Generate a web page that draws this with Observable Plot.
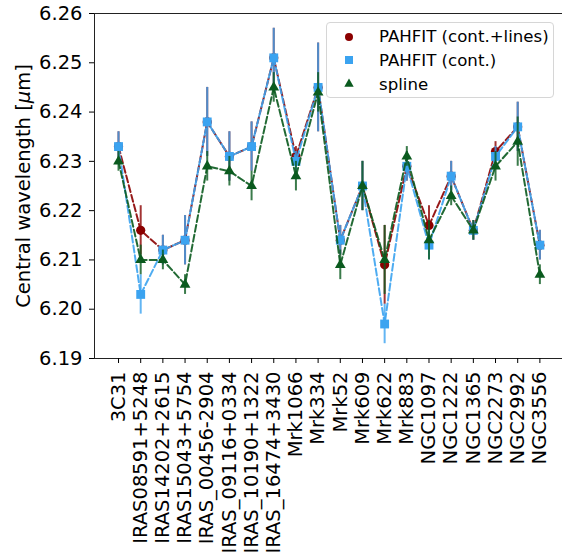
<!DOCTYPE html>
<html>
<head>
<meta charset="utf-8">
<script src="https://cdn.jsdelivr.net/npm/d3@7"></script>
<script src="https://cdn.jsdelivr.net/npm/@observablehq/plot@0.6"></script>
<style>
  html, body { margin: 0; padding: 0; background: #fff; }
  #wrap { position: relative; width: 562px; height: 559px; font-family: "DejaVu Sans", sans-serif; }
  #legend { position: absolute; left: 326px; top: 22px; width: 228px; height: 76px; box-sizing: border-box;
            border: 1px solid #d6d6d6; border-radius: 4px; background: rgba(255,255,255,0.85);
            font-size: 16.6px; color: #000; }
  .row { position: absolute; left: 0; height: 24px; display: flex; align-items: center; }
  .row svg { position: absolute; left: 14px; }
  .row span { position: absolute; left: 52px; white-space: nowrap; }
</style>
</head>
<body>
<div id="wrap"></div>
<script>
const galaxies = ["3C31","IRAS08591+5248","IRAS14202+2615","IRAS15043+5754","IRAS_00456-2904",
  "IRAS_09116+0334","IRAS_10190+1322","IRAS_16474+3430","Mrk1066","Mrk334","Mrk52","Mrk609",
  "Mrk622","Mrk883","NGC1097","NGC1222","NGC1365","NGC2273","NGC2992","NGC3556"];

const pahfitLines    = [6.233,6.216,6.212,6.214,6.238,6.231,6.233,6.251,6.231,6.245,6.214,6.225,6.209,6.229,6.217,6.227,6.216,6.232,6.237,6.213];
const pahfitLinesErr = [0.003,0.005,0.003,0.005,0.007,0.005,0.005,0.006,0.002,0.009,0.003,0.005,0.008,0.003,0.004,0.003,0.002,0.002,0.005,0.003];
const pahfitCont     = [6.233,6.203,6.212,6.214,6.238,6.231,6.233,6.251,6.230,6.245,6.214,6.225,6.197,6.229,6.213,6.227,6.216,6.231,6.237,6.213];
const pahfitContErr  = [0.003,0.004,0.003,0.005,0.007,0.005,0.005,0.006,0.002,0.009,0.003,0.005,0.004,0.003,0.003,0.003,0.002,0.002,0.005,0.003];
const spline         = [6.230,6.210,6.210,6.205,6.229,6.228,6.225,6.245,6.227,6.244,6.209,6.225,6.210,6.231,6.214,6.223,6.216,6.229,6.234,6.207];
const splineErr      = [0.002,0.003,0.002,0.002,0.003,0.003,0.003,0.003,0.003,0.004,0.003,0.005,0.007,0.002,0.004,0.002,0.002,0.003,0.005,0.002];

const yTicks = [6.19,6.20,6.21,6.22,6.23,6.24,6.25,6.26];

const series = [
  {name: "PAHFIT (cont.+lines)", values: pahfitLines, errs: pahfitLinesErr, color: "#8b0000", symbol: "circle", r: 4.6},
  {name: "PAHFIT (cont.)",       values: pahfitCont,  errs: pahfitContErr,  color: "#3ba3f0", symbol: "square", r: 5.0},
  {name: "spline",               values: spline,      errs: splineErr,      color: "#0a5a1e", symbol: "triangle", r: 4.0}
];

const xDomain = [-1.083, 20.02];
const yDomain = [yTicks[0], yTicks[yTicks.length - 1]];

const marks = [];
for (const s of series) {
  const rows = s.values.map((v, i) => ({i, v, lo: v - s.errs[i], hi: v + s.errs[i]}));
  marks.push(Plot.line(rows, {x: "i", y: "v", stroke: s.color, strokeWidth: 2, strokeDasharray: "7,3", strokeOpacity: 0.9}));
  marks.push(Plot.ruleX(rows, {x: "i", y1: "lo", y2: "hi", stroke: s.color, strokeWidth: 2, strokeOpacity: 0.8}));
  marks.push(Plot.dot(rows, {x: "i", y: "v", fill: s.color, stroke: "none", symbol: () => s.symbol, r: s.r}));
}
marks.push(Plot.ruleY(yDomain, {stroke: "#222", strokeWidth: 1}));
marks.push(Plot.ruleX([xDomain[0]], {stroke: "#222", strokeWidth: 1}));
marks.push(Plot.axisY({ticks: yTicks, tickFormat: d3.format(".2f"), tickSize: 5, tickPadding: 7,
  label: "Central wavelength [μm]", labelAnchor: "center", labelOffset: 78, labelArrow: "none"}));
marks.push(Plot.axisX({ticks: d3.range(galaxies.length), tickFormat: i => galaxies[i], tickSize: 5,
  tickPadding: 8, tickRotate: -90, label: null}));

const chart = Plot.plot({
  width: 562, height: 559,
  marginLeft: 94, marginRight: 0, marginTop: 13, marginBottom: 201,
  style: {fontFamily: "DejaVu Sans, sans-serif", fontSize: "19.5px", color: "#000", background: "#fff", overflow: "visible"},
  x: {type: "linear", domain: xDomain},
  y: {domain: yDomain},
  marks
});

// italic mu in the y label
d3.select(chart).selectAll("text").each(function() {
  if (this.textContent.startsWith("Central")) {
    const t = d3.select(this);
    t.text("");
    t.append("tspan").text("Central wavelength [");
    t.append("tspan").attr("font-style", "italic").text("μ");
    t.append("tspan").text("m]");
  }
});

const wrap = document.getElementById("wrap");
wrap.appendChild(chart);

const legend = document.createElement("div");
legend.id = "legend";
series.forEach((s, k) => {
  const row = document.createElement("div");
  row.className = "row";
  row.style.top = (1.5 + k * 23.8) + "px";
  row.style.width = "100%";
  const size = s.symbol === "circle" ? Math.PI * 4 * 4 : s.symbol === "square" ? 64 : 38;
  const sym = s.symbol === "circle" ? d3.symbolCircle : s.symbol === "square" ? d3.symbolSquare : d3.symbolTriangle;
  const svg = d3.create("svg").attr("width", 16).attr("height", 16);
  svg.append("path").attr("transform", "translate(8,8)").attr("d", d3.symbol(sym, size)()).attr("fill", s.color);
  row.appendChild(svg.node());
  const label = document.createElement("span");
  label.textContent = s.name;
  row.appendChild(label);
  legend.appendChild(row);
});
wrap.appendChild(legend);
</script>
</body>
</html>
